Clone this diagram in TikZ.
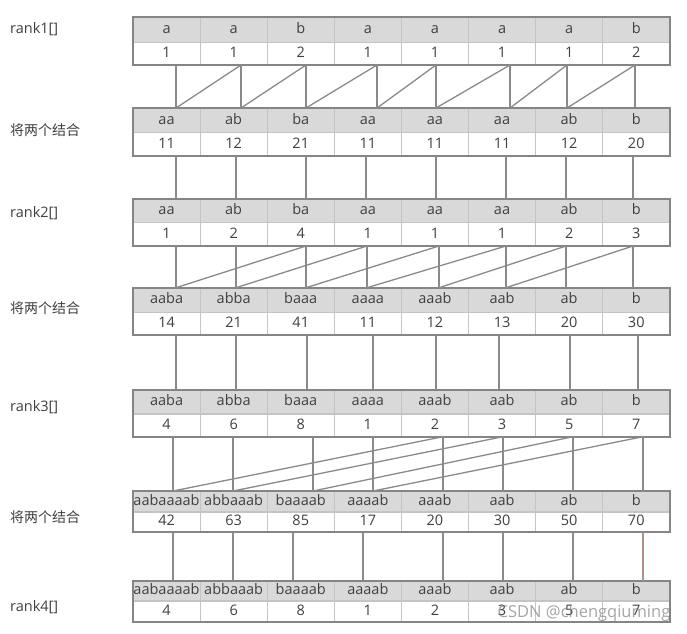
\documentclass[tikz,border=0pt]{standalone}
\usepackage{fontspec}
\setmainfont{Open Sans}
\newfontfamily\cjk{Noto Sans CJK SC}
\definecolor{rim}{HTML}{858585}
\definecolor{grid}{HTML}{C4C4C4}
\definecolor{shade}{HTML}{D9D9D9}
\definecolor{ink}{HTML}{404040}
\definecolor{wire}{HTML}{8A8A8A}
\definecolor{pinkwire}{HTML}{B58C90}
\tikzset{
  keycell/.style={fill=shade, inner sep=0pt, outer sep=0pt, minimum width=67.1pt, text height=10.5pt, text depth=3pt, text=ink, font=\fontsize{14.5}{16}\selectfont},
  valcell/.style={fill=white, inner sep=0pt, outer sep=0pt, minimum width=67.1pt, text height=10.5pt, text depth=3pt, text=ink, font=\fontsize{14.5}{16}\selectfont},
  sidetext/.style={anchor=west, inner sep=0pt, text=ink, font=\fontsize{14.5}{16}\selectfont},
  link/.style={draw=wire, line width=1.6pt},
  slant/.style={draw=wire, line width=1.3pt}
}
\begin{document}
\begin{tikzpicture}[x=1pt,y=-1pt]
\useasboundingbox (0,0) rectangle (687,633);

% the seven tables
\foreach \t/\top/\hk/\hv/\keys/\vals in {
  1/17/25.6/22.4/{a,a,b,a,a,a,a,b}/{1,1,2,1,1,1,1,2},
  2/108/24.5/23.5/{aa,ab,ba,aa,aa,aa,ab,b}/{11,12,21,11,11,11,12,20},
  3/199.3/23.4/23.3/{aa,ab,ba,aa,aa,aa,ab,b}/{1,2,4,1,1,1,2,3},
  4/287.7/24.6/22.7/{aaba,abba,baaa,aaaa,aaab,aab,ab,b}/{14,21,41,11,12,13,20,30},
  5/390/24/22.7/{aaba,abba,baaa,aaaa,aaab,aab,ab,b}/{4,6,8,1,2,3,5,7},
  6/491/21/19.7/{aabaaaab,abbaaab,baaaab,aaaab,aaab,aab,ab,b}/{42,63,85,17,20,30,50,70},
  7/581/20/20.7/{aabaaaab,abbaaab,baaaab,aaaab,aaab,aab,ab,b}/{4,6,8,1,2,3,5,7}}{
  \foreach \s [count=\i] in \keys
    \node[keycell, minimum height=\hk pt] (k\t\i) at ({133+67.1*(\i-0.5)},{\top+\hk/2}) {\s};
  \foreach \s [count=\i] in \vals
    \node[valcell, minimum height=\hv pt] (v\t\i) at ({133+67.1*(\i-0.5)},{\top+\hk+\hv/2}) {\s};
  \draw[grid, line width=1.2pt] (v\t1.north west) -- (v\t8.north east);
  \foreach \i in {1,...,7}
    \draw[grid, line width=1.2pt] (v\t\i.south east) -- (v\t\i.east |- k\t\i.north);
  \draw[rim, line width=1.8pt] (v\t1.south west) rectangle (v\t8.east |- k\t8.north);
}

% ends of the links between the tables
\foreach \g/\xs in {
  1/{176,241,306,377,436,510,567,635},
  2/{176,236,306,366,436,506,566,633},
  3/{176,236,306,367,439,506,566,633},
  4/{176,236,307,373,436,499,570,638},
  5/{173,233,313,373,443,503,573,643},
  6/{173,233,293,363,443,503,573,643}}{
  \pgfmathtruncatemacro\n{\g+1}
  \foreach \x [count=\i] in \xs {
    \coordinate (u\g\i) at (\x,0 |- v\g1.south);
    \coordinate (d\g\i) at (\x,0 |- k\n1.north);
  }
}

\foreach \g in {1,...,5}
  \foreach \i in {1,...,8}
    \draw[link] (u\g\i) -- (d\g\i);
\foreach \i in {1,...,7}
  \draw[link] (u6\i) -- (d6\i);
\draw[link, draw=pinkwire] (u68) -- (d68);

% slanted links: step 1, 2, 4
\foreach \i in {1,...,7} {\pgfmathtruncatemacro\j{\i+1} \draw[slant] (d1\i) -- (u1\j);}
\foreach \i in {1,...,6} {\pgfmathtruncatemacro\j{\i+2} \draw[slant] (d3\i) -- (u3\j);}
\foreach \i in {1,...,4} {\pgfmathtruncatemacro\j{\i+4} \draw[slant] (d5\i) -- (u5\j);}

% side texts
\node[sidetext] (rank1) at (10,29) {rank1[]};
\node[sidetext, font=\cjk\fontsize{14}{16}\selectfont] (join1) at (10,130) {将两个结合};
\node[sidetext] (rank2) at (10,213) {rank2[]};
\node[sidetext, font=\cjk\fontsize{14}{16}\selectfont] (join2) at (10,308.3) {将两个结合};
\node[sidetext] (rank3) at (10,406.7) {rank3[]};
\node[sidetext, font=\cjk\fontsize{14}{16}\selectfont] (join3) at (10,516.7) {将两个结合};
\node[sidetext] (rank4) at (10,606.7) {rank4[]};

\node[text=gray, opacity=0.7, inner sep=0pt, font=\fontsize{16.5}{18}\selectfont] (mark) at (584,613) {CSDN @chengqiuming};
\end{tikzpicture}
\end{document}
